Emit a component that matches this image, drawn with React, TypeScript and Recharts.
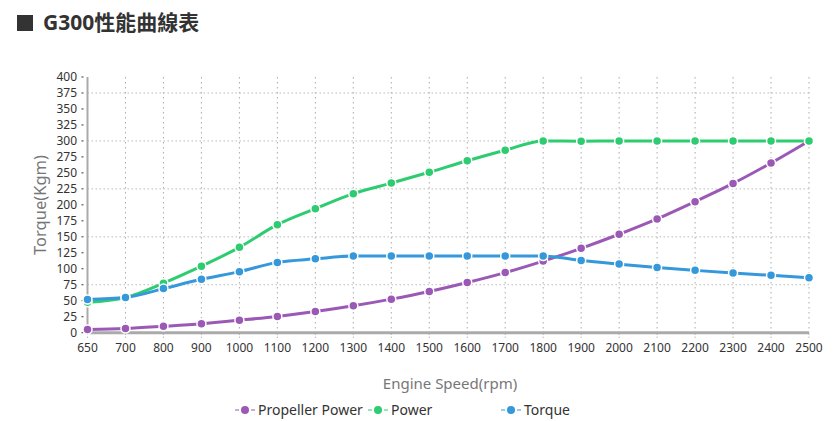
import {
  LineChart,
  Line,
  XAxis,
  YAxis,
  CartesianGrid,
  ReferenceLine,
} from "recharts";

const rpm = [
  "650", "700", "800", "900", "1000", "1100", "1200", "1300", "1400", "1500",
  "1600", "1700", "1800", "1900", "2000", "2100", "2200", "2300", "2400", "2500",
];
const propellerPower = [5, 6.5, 10, 14, 19.5, 25.5, 33, 42, 52.5, 64.5, 78.5, 94, 112, 132, 154, 178, 205, 233.5, 265.5, 300];
const power = [47.5, 55, 77.5, 104, 133.5, 169, 194, 217.5, 234, 251, 269, 285.5, 300, 299.5, 300, 300, 300, 300, 300, 300];
const torque = [52, 55, 69, 83.5, 95.5, 110, 115.5, 119.8, 120, 120, 120, 120, 120, 113, 107.3, 102, 97.5, 93.3, 89.7, 86];
const yTicks = [0, 25, 50, 75, 100, 125, 150, 175, 200, 225, 250, 275, 300, 325, 350, 375, 400];
const gridRows = [75, 150, 225, 300, 375];

const series = [
  { key: "propeller", name: "Propeller Power", color: "#9b59b6" },
  { key: "power", name: "Power", color: "#2ecc71" },
  { key: "torque", name: "Torque", color: "#3498db" },
];

const data = rpm.map((r, i) => ({
  rpm: r,
  propeller: propellerPower[i],
  power: power[i],
  torque: torque[i],
}));

const FONT = "'Noto Sans', 'Noto Sans CJK TC', sans-serif";

const LegendIcon = ({ color }: { color: string }) => (
  <svg width={20} height={10} style={{ marginRight: 3 }}>
    <line x1={0} y1={5} x2={4} y2={5} stroke={color} strokeWidth={1} />
    <line x1={16} y1={5} x2={20} y2={5} stroke={color} strokeWidth={1} />
    <circle cx={10} cy={5} r={4} fill={color} />
  </svg>
);

export default function App() {
  return (
    <div
      style={{
        position: "absolute",
        left: 0,
        top: 0,
        width: 836,
        height: 421,
        background: "#fff",
        fontFamily: FONT,
        overflow: "hidden",
      }}
    >
      <div
        style={{
          position: "absolute",
          left: 17,
          top: 15,
          width: 16,
          height: 16,
          background: "#333",
        }}
      />
      <div
        style={{
          position: "absolute",
          left: 43,
          top: 7,
          fontSize: 21,
          fontWeight: 700,
          color: "#333",
          lineHeight: "30px",
        }}
      >
        G300性能曲線表
      </div>

      <LineChart
        width={836}
        height={421}
        data={data}
        margin={{ top: 77, right: 27, left: 27.5, bottom: 58.3 }}
        style={{ position: "absolute", left: 0, top: 0 }}
      >
        <CartesianGrid
          horizontal={false}
          stroke="#aaa"
          strokeDasharray="1.5 3.5"
        />
        {/* horizontal rows only every third tick */}
        {gridRows.map((v) => (
          <ReferenceLine
            key={v}
            y={v}
            stroke="#bbb"
            strokeDasharray="1.5 2.5"
          />
        ))}
        <XAxis
          dataKey="rpm"
          height={30}
          interval={0}
          tickSize={5}
          tickMargin={6}
          axisLine={{ stroke: "#aaa", strokeWidth: 3 }}
          tickLine={{ stroke: "#999", strokeDasharray: "1 2" }}
          tick={{ fontSize: 12, fill: "#333", fontFamily: FONT }}
          label={{
            content: () => (
              <text
                x={450}
                y={389}
                textAnchor="middle"
                fontSize={15}
                fill="#777"
                fontFamily={FONT}
              >
                Engine Speed(rpm)
              </text>
            ),
          }}
        />
        <YAxis
          width={60}
          domain={[0, 400]}
          ticks={yTicks}
          interval={0}
          tickSize={6}
          tickMargin={4.5}
          axisLine={{ stroke: "#aaa", strokeWidth: 2 }}
          tickLine={{ stroke: "#333", strokeDasharray: "2 10" }}
          tick={{ fontSize: 12, fill: "#333", fontFamily: FONT }}
          label={{
            content: () => (
              <text
                x={46}
                y={205}
                transform="rotate(-90 46 205)"
                textAnchor="middle"
                fontSize={16.5}
                fill="#777"
                fontFamily={FONT}
              >
                Torque(Kgm)
              </text>
            ),
          }}
        />
        {series.map((s) => (
          <Line
            key={s.key}
            type="monotone"
            dataKey={s.key}
            name={s.name}
            stroke={s.color}
            strokeWidth={3}
            dot={{ r: 4.5, fill: s.color, stroke: "#fff", strokeWidth: 1.5 }}
            activeDot={false}
            isAnimationActive={false}
          />
        ))}
      </LineChart>

      <div
        style={{
          position: "absolute",
          left: 235,
          top: 400,
          display: "flex",
          fontSize: 14,
          color: "#333",
        }}
      >
        {series.map((s) => (
          <div
            key={s.key}
            style={{ width: 133, display: "flex", alignItems: "center" }}
          >
            <LegendIcon color={s.color} />
            <span>{s.name}</span>
          </div>
        ))}
      </div>
    </div>
  );
}
